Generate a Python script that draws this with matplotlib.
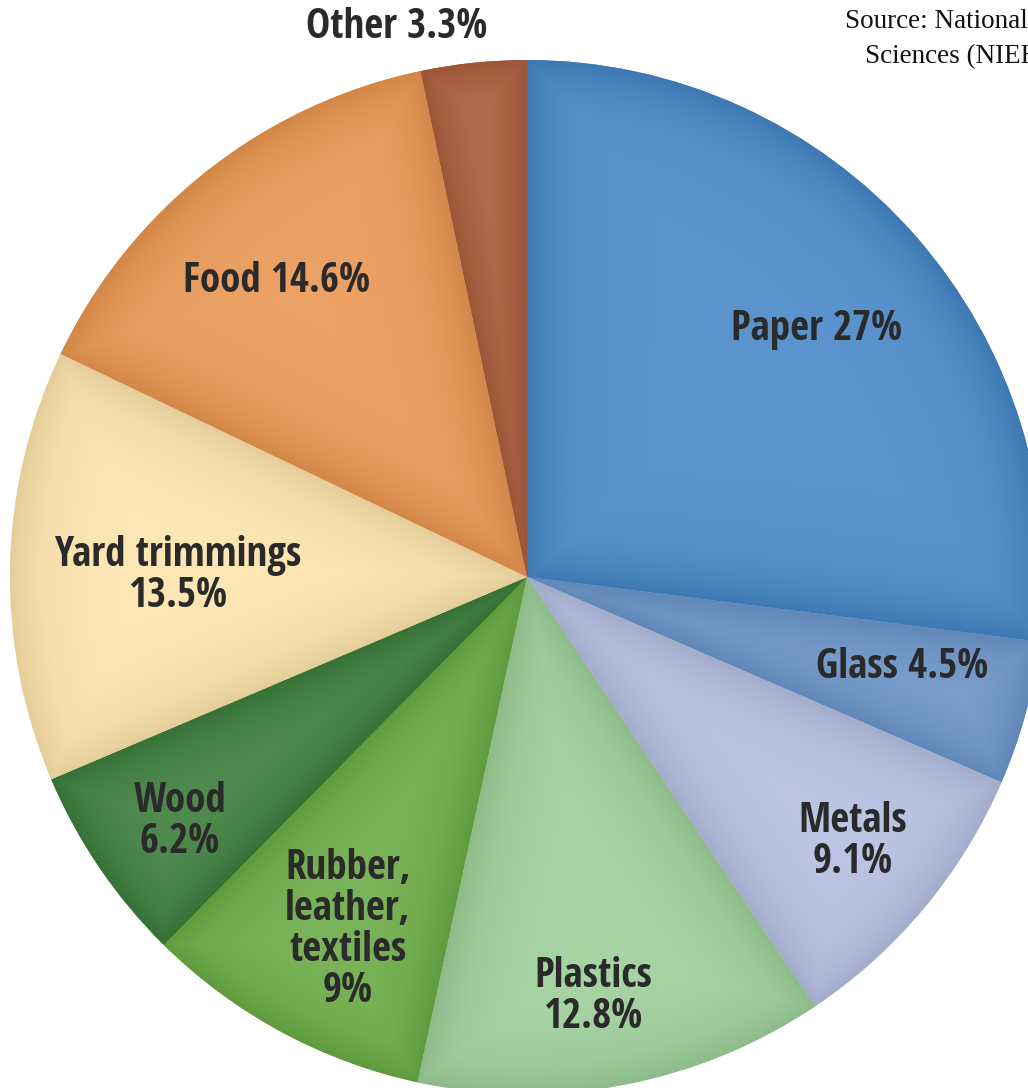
import numpy as np
import matplotlib.pyplot as plt
from matplotlib.colors import to_rgb

# Municipal solid waste composition, percent by weight
categories = ["Paper", "Glass", "Metals", "Plastics", "Rubber, leather, textiles",
              "Wood", "Yard trimmings", "Food", "Other"]
shares = [27, 4.5, 9.1, 12.8, 9, 6.2, 13.5, 14.6, 3.3]
labels = ["Paper 27%", "Glass 4.5%", "Metals\n9.1%", "Plastics\n12.8%",
          "Rubber,\nleather,\ntextiles\n9%", "Wood\n6.2%", "Yard trimmings\n13.5%",
          "Food 14.6%", "Other 3.3%"]
colors = ["#4586c7", "#6c96cc", "#b4bfe2", "#9ccf98", "#6aab44",
          "#3c7e3b", "#fde4aa", "#ea9650", "#ae5f3e"]

W, H = 1028, 1088
cx, cy, R = 527, 577, 517

fig = plt.figure(figsize=(W / 100, H / 100), dpi=100)
ax = fig.add_axes([0, 0, 1, 1])

wedges, _ = ax.pie(shares, colors=colors, startangle=90, counterclock=False,
                   radius=R, center=(0, 0), frame=True,
                   wedgeprops=dict(linewidth=0))
# axis units are pixels, origin at the pie centre
ax.set_xlim(-cx, W - cx)
ax.set_ylim(-(H - cy), cy)
ax.set_aspect("auto")
ax.axis("off")

# soft shading: darker along the slice borders and rim, lighter inside
g = np.arange(-R, R + 1, dtype=float)
X, Y = np.meshgrid(g, g)
rr = np.hypot(X, Y)
th = np.degrees(np.arctan2(Y, X)) % 360
for w, c in zip(wedges, colors):
    base = np.array(to_rgb(c))
    rel = (th - w.theta1) % 360
    span = w.theta2 - w.theta1
    d_edge = np.radians(np.minimum(rel, np.abs(span - rel))) * rr
    d = np.minimum(d_edge, R - rr).clip(0)
    s = (1 - np.exp(-d / 35))[..., None]
    dark = base * 0.90
    light = base + (1 - base) * 0.12
    img = dark * (1 - s) + light * s
    im = ax.imshow(img.clip(0, 1), extent=(-R, R, -R, R), origin="lower",
                   interpolation="bilinear", zorder=2)
    im.set_clip_path(w)

# label anchor points (pixel positions from the top-left corner)
label_pos = [(817, 330), (902, 667), (853, 842), (593, 997),
             (348, 930), (180, 822), (178, 576), (277, 281), (397, 27)]
font = dict(family=["Open Sans Condensed", "PT Sans Narrow", "Roboto Condensed",
                    "Archivo Narrow", "DejaVu Sans"],
            weight="bold", size=29.5, color="#2b2a2b", linespacing=1.0, zorder=5)
for text, (px, py) in zip(labels, label_pos):
    ax.text(px - cx, cy - py, text, ha="center", va="center", **font)

src = dict(family=["Liberation Serif", "DejaVu Serif"], size=19.5, color="#111111",
           ha="left", va="center")
fig.text(845 / W, 1 - 22 / H, "Source: National", **src)
fig.text(865 / W, 1 - 57 / H, "Sciences (NIEHS)", **src)

fig.savefig("out.png", dpi=100, facecolor="white")
